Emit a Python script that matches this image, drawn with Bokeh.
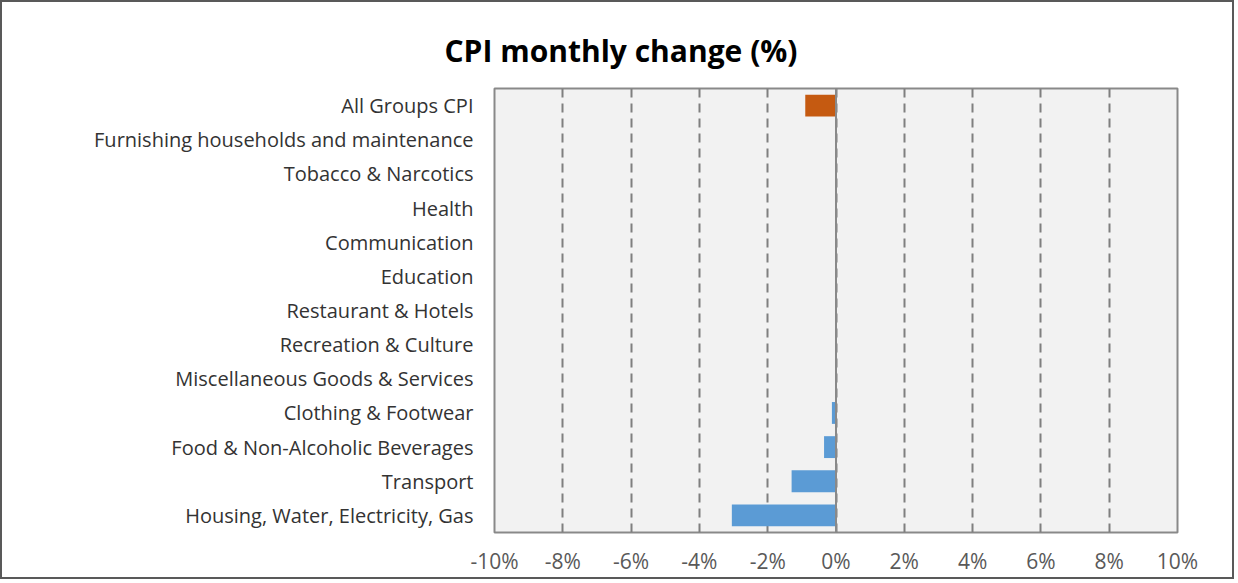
from bokeh.plotting import figure
from bokeh.models import FactorRange, Span, FixedTicker, PrintfTickFormatter, ColumnDataSource
from bokeh.embed import file_html
from bokeh.resources import INLINE

# categories listed bottom to top
categories = [
    "Housing, Water, Electricity, Gas",
    "Transport",
    "Food & Non-Alcoholic Beverages",
    "Clothing & Footwear",
    "Miscellaneous Goods & Services",
    "Recreation & Culture",
    "Restaurant & Hotels",
    "Education",
    "Communication",
    "Health",
    "Tobacco & Narcotics",
    "Furnishing households and maintenance",
    "All Groups CPI",
]
values = [-3.05, -1.3, -0.35, -0.12, 0, 0, 0, 0, 0, 0, 0, 0, -0.9]
colors = ["#5B9BD5"] * 12 + ["#C55A11"]
x_ticks = [-10, -8, -6, -4, -2, 0, 2, 4, 6, 8, 10]

src = ColumnDataSource(dict(cat=categories, val=values, zero=[0] * len(values), color=colors))

p = figure(
    width=1234, height=579,
    y_range=FactorRange(*categories),
    x_range=(-10, 10),
    output_backend="svg", toolbar_location=None,
    min_border_left=492, min_border_right=59, min_border_top=86, min_border_bottom=49,
)
p.styles = {"border": "2px solid #595959"}

p.title.text = "CPI monthly change (%)"
p.title.text_font = "Open Sans"
p.title.text_font_size = "30px"
p.title.text_font_style = "bold"
p.title.text_color = "#000000"
p.title.align = "left"
p.title.offset = -50
p.title.standoff = 35

p.background_fill_color = "#F2F2F2"
p.border_fill_color = "#FFFFFF"
p.outline_line_color = "#898989"
p.outline_line_width = 2

p.hbar(y="cat", left="val", right="zero", height=0.64, fill_color="color", line_color=None, source=src)

p.add_layout(Span(location=0, dimension="height", line_color="#898989", line_width=2))

p.ygrid.grid_line_color = None
p.xgrid.grid_line_color = "#7F7F7F"
p.xgrid.grid_line_width = 2
p.xgrid.grid_line_dash = "9 6"
p.xgrid.ticker = FixedTicker(ticks=x_ticks)

p.xaxis.ticker = FixedTicker(ticks=x_ticks)
p.xaxis.formatter = PrintfTickFormatter(format="%d%%")
p.xaxis.axis_line_color = None
p.xaxis.major_tick_line_color = None
p.xaxis.minor_tick_line_color = None
p.xaxis.major_label_text_font = "Open Sans"
p.xaxis.major_label_text_font_size = "21px"
p.xaxis.major_label_text_color = "#595959"
p.xaxis.major_label_standoff = 8

p.yaxis.axis_line_color = None
p.yaxis.major_tick_line_color = None
p.yaxis.minor_tick_line_color = None
p.yaxis.major_label_text_font = "Open Sans"
p.yaxis.major_label_text_font_size = "20px"
p.yaxis.major_label_text_color = "#333333"
p.yaxis.major_label_standoff = 15

open("out.html", "w").write(file_html(p, INLINE))
